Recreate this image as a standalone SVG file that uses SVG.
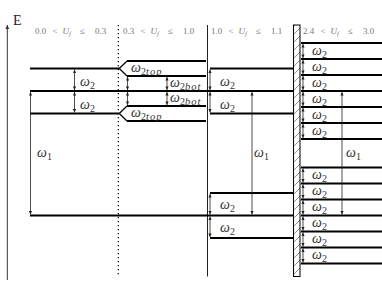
<svg xmlns="http://www.w3.org/2000/svg" width="382" height="289" viewBox="0 0 382 289">
<style>
.lv{stroke:#000;stroke-width:2;fill:none}
.fk{stroke:#000;stroke-width:1.2;fill:none}
.ar{stroke:#222;stroke-width:0.8;fill:none;marker-start:url(#ah);marker-end:url(#ah)}
.w{font-family:"Liberation Serif",serif;font-style:italic;font-size:14px;fill:#333}
.s{font-style:normal;font-size:10px}
.si{font-style:italic;font-size:10.5px;letter-spacing:1.1px}
.rg{font-family:"Liberation Serif",serif;font-size:9px;fill:#777}
.it{font-style:italic}
.sb{font-style:italic;font-size:6.5px}
.vl{stroke:#222;stroke-width:1;fill:none}
</style>
<defs>
<marker id="ah" markerUnits="userSpaceOnUse" markerWidth="4" markerHeight="4" refX="3.6" refY="2" orient="auto-start-reverse">
<path d="M0,0.4 L3.6,2 L0,3.6 z" fill="#222"/>
</marker>
<marker id="axh" markerUnits="userSpaceOnUse" markerWidth="5" markerHeight="5" refX="4" refY="2.5" orient="auto">
<path d="M0,0.6 L4,2.5 L0,4.4 z" fill="#333"/>
</marker>
<pattern id="hatch" patternUnits="userSpaceOnUse" width="8" height="8">
<path d="M-1,9 L9,-1 M-3,3 L3,-3 M5,11 L11,5" stroke="#444" stroke-width="0.6"/>
</pattern>
</defs>
<g id="axis">
<line x1="7.3" y1="280" x2="7.3" y2="25" stroke="#333" stroke-width="1" marker-end="url(#axh)"/>
<text x="13" y="25" font-family="Liberation Serif,serif" font-size="14" fill="#222">E</text>
</g>
<g id="dividers">
<line x1="118.3" y1="25" x2="118.3" y2="276" stroke="#000" stroke-width="1.2" stroke-dasharray="1.2 2.8"/>
<line class="vl" x1="207.5" y1="25" x2="207.5" y2="276.5"/>
<rect x="293.5" y="25" width="6.5" height="251.5" fill="url(#hatch)" stroke="#000" stroke-width="1"/>
</g>
<g id="region-labels">
<text class="rg" transform="translate(35,34)"><tspan x="0">0.0</tspan><tspan x="17.5">&lt;</tspan><tspan x="27.5" class="it">U</tspan><tspan x="34" dy="2" class="sb">f</tspan><tspan x="45" dy="-2">≤</tspan><tspan x="60">0.3</tspan></text>
<text class="rg" transform="translate(123,34)"><tspan x="0">0.3</tspan><tspan x="17.5">&lt;</tspan><tspan x="27.5" class="it">U</tspan><tspan x="34" dy="2" class="sb">f</tspan><tspan x="45" dy="-2">≤</tspan><tspan x="60">1.0</tspan></text>
<text class="rg" transform="translate(211,34)"><tspan x="0">1.0</tspan><tspan x="17.5">&lt;</tspan><tspan x="27.5" class="it">U</tspan><tspan x="34" dy="2" class="sb">f</tspan><tspan x="45" dy="-2">≤</tspan><tspan x="60">1.1</tspan></text>
<text class="rg" transform="translate(303,34)"><tspan x="0">2.4</tspan><tspan x="17.5">&lt;</tspan><tspan x="27.5" class="it">U</tspan><tspan x="34" dy="2" class="sb">f</tspan><tspan x="45" dy="-2">≤</tspan><tspan x="60">3.0</tspan></text>
</g>
<g id="region1">
<path class="lv" d="M30,68.5 H119.3 M30,113.5 H119.3 M30,91 H293.5 M30,215.5 H293.5"/>
<text class="w" x="80" y="85.5">ω<tspan class="s" dy="3">2</tspan></text>
<text class="w" x="80" y="108.5">ω<tspan class="s" dy="3">2</tspan></text>
<text class="w" x="37" y="157">ω<tspan class="s" dy="3">1</tspan></text>
</g>
<g id="region2">
<path class="fk" d="M119.3,68.5 L127,61 M119.3,68.5 L127,76 M119.3,113.5 L127,106 M119.3,113.5 L127,121"/>
<path class="lv" d="M127,61 H206 M127,76 H206 M127,106 H206 M127,121 H206"/>
<text class="w" x="131" y="72">ω<tspan class="s" dy="3">2</tspan><tspan class="si">top</tspan></text>
<text class="w" x="131" y="117">ω<tspan class="s" dy="3">2</tspan><tspan class="si">top</tspan></text>
<text class="w" x="170" y="87">ω<tspan class="s" dy="3">2</tspan><tspan class="si">bot</tspan></text>
<text class="w" x="170" y="101.5">ω<tspan class="s" dy="3">2</tspan><tspan class="si">bot</tspan></text>
</g>
<g id="region3">
<path class="lv" d="M210,68.5 H293.5 M210,113.5 H293.5 M210,193 H293.5 M210,238 H293.5"/>
<text class="w" x="220" y="85.5">ω<tspan class="s" dy="3">2</tspan></text>
<text class="w" x="220" y="108.5">ω<tspan class="s" dy="3">2</tspan></text>
<text class="w" x="220" y="208.5">ω<tspan class="s" dy="3">2</tspan></text>
<text class="w" x="220" y="231.5">ω<tspan class="s" dy="3">2</tspan></text>
<text class="w" x="254" y="157">ω<tspan class="s" dy="3">1</tspan></text>
</g>
<g id="region4">
<path class="lv" d="M301,43 H382 M301,59 H382 M301,75 H382 M301,91 H382 M301,107 H382 M301,123 H382 M301,139 H382 M301,167.5 H382 M301,183.5 H382 M301,199.5 H382 M301,215.5 H382 M301,231.5 H382 M301,247.5 H382 M301,263.5 H382"/>
<text class="w" x="312" y="54.5">ω<tspan class="s" dy="3">2</tspan></text>
<text class="w" x="312" y="70.5">ω<tspan class="s" dy="3">2</tspan></text>
<text class="w" x="312" y="86.5">ω<tspan class="s" dy="3">2</tspan></text>
<text class="w" x="312" y="102.5">ω<tspan class="s" dy="3">2</tspan></text>
<text class="w" x="312" y="118.5">ω<tspan class="s" dy="3">2</tspan></text>
<text class="w" x="312" y="134.5">ω<tspan class="s" dy="3">2</tspan></text>
<text class="w" x="312" y="179">ω<tspan class="s" dy="3">2</tspan></text>
<text class="w" x="312" y="195">ω<tspan class="s" dy="3">2</tspan></text>
<text class="w" x="312" y="211">ω<tspan class="s" dy="3">2</tspan></text>
<text class="w" x="312" y="227">ω<tspan class="s" dy="3">2</tspan></text>
<text class="w" x="312" y="243">ω<tspan class="s" dy="3">2</tspan></text>
<text class="w" x="312" y="259">ω<tspan class="s" dy="3">2</tspan></text>
<text class="w" x="346" y="157">ω<tspan class="s" dy="3">1</tspan></text>
</g>
<g id="connectors">
<line class="ar" x1="30.5" y1="92" x2="30.5" y2="214.5"/>
<line class="ar" x1="74.5" y1="69.5" x2="74.5" y2="90"/>
<line class="ar" x1="74.5" y1="92" x2="74.5" y2="112.5"/>
<line class="ar" x1="127.5" y1="77" x2="127.5" y2="90"/>
<line class="ar" x1="127.5" y1="92" x2="127.5" y2="105"/>
<line class="ar" x1="167" y1="77" x2="167" y2="90"/>
<line class="ar" x1="167" y1="92" x2="167" y2="105"/>
<line class="ar" x1="210" y1="69.5" x2="210" y2="90"/>
<line class="ar" x1="210" y1="92" x2="210" y2="112.5"/>
<line class="ar" x1="210" y1="194" x2="210" y2="214.5"/>
<line class="ar" x1="210" y1="216.5" x2="210" y2="237"/>
<line class="ar" x1="252" y1="92" x2="252" y2="214.5"/>
<line class="ar" x1="342" y1="92" x2="342" y2="214.5"/>
<line class="ar" x1="303" y1="44" x2="303" y2="58"/>
<line class="ar" x1="303" y1="60" x2="303" y2="74"/>
<line class="ar" x1="303" y1="76" x2="303" y2="90"/>
<line class="ar" x1="303" y1="92" x2="303" y2="106"/>
<line class="ar" x1="303" y1="108" x2="303" y2="122"/>
<line class="ar" x1="303" y1="124" x2="303" y2="138"/>
<line class="ar" x1="303" y1="168.5" x2="303" y2="182.5"/>
<line class="ar" x1="303" y1="184.5" x2="303" y2="198.5"/>
<line class="ar" x1="303" y1="200.5" x2="303" y2="214.5"/>
<line class="ar" x1="303" y1="216.5" x2="303" y2="230.5"/>
<line class="ar" x1="303" y1="232.5" x2="303" y2="246.5"/>
<line class="ar" x1="303" y1="248.5" x2="303" y2="262.5"/>
</g>
</svg>
